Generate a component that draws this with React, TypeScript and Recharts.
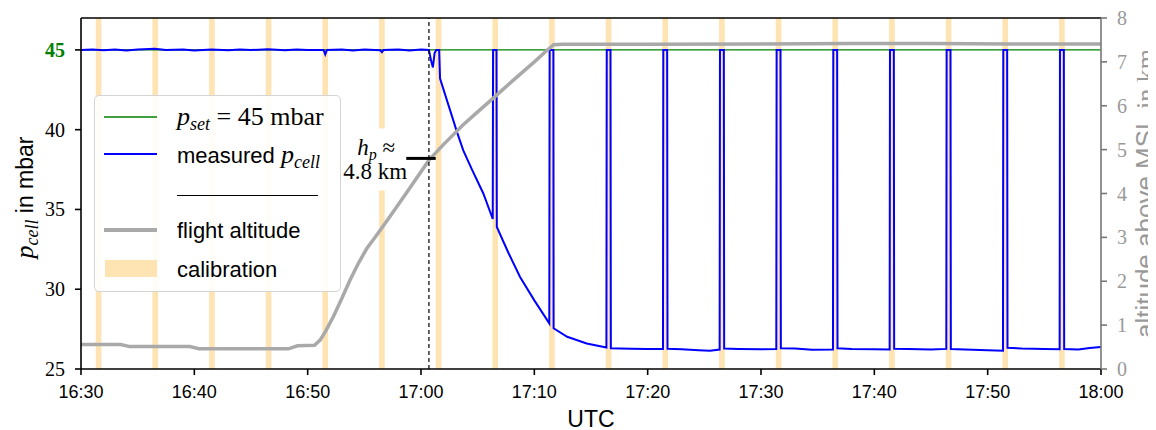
import React from 'react';
import {
  ComposedChart,
  Line,
  XAxis,
  YAxis,
  ReferenceArea,
  ReferenceLine,
  ReferenceDot,
  Label,
} from 'recharts';

const SANS = '"Liberation Sans", Arial, Helvetica, sans-serif';
const SERIF = '"Liberation Serif", "Times New Roman", serif';

const GREEN = '#008000';
const BLUE = '#0000ff';
const GREY = '#a9a9a9';
const CALIB = '#ffe4b3';

// time axis in minutes after midnight (UTC)
const timeTicks = [990, 1000, 1010, 1020, 1030, 1040, 1050, 1060, 1070, 1080];
const pressureTicks = [25, 30, 35, 40, 45];
const altitudeTicks = [0, 1, 2, 3, 4, 5, 6, 7, 8];

const pSet = 45;

// start of each calibration window, ~0.5 min long
const calibrationStart = [
  991.3, 996.3, 1001.3, 1006.3, 1011.3, 1016.3, 1021.3, 1026.3, 1031.3,
  1036.3, 1041.3, 1046.3, 1051.3, 1056.3, 1061.3, 1066.3, 1071.3, 1076.3,
];
const calibrationLength = 0.5;

// pressure controller saturates here
const hpTime = 1020.7;
const hpAltitude = 4.8;

// [minute, mbar]
const measuredPcell: [number, number][] = [
  [990, 45.0], [991, 45.03], [992, 44.98], [993, 45.02], [994, 44.97], [995, 45.02],
  [996.5, 45.08], [997.5, 44.99], [999, 45.02], [1000, 44.97], [1001.5, 45.03],
  [1003, 44.98], [1004, 45.02], [1005, 44.99], [1006.5, 45.04], [1008, 44.98],
  [1009, 45.02], [1010, 44.99], [1011.4, 45.0], [1011.55, 44.72], [1011.7, 45.0],
  [1013, 45.03], [1014, 44.97], [1015, 45.02], [1016.4, 44.98], [1016.55, 44.86],
  [1016.7, 45.0], [1018, 45.02], [1019, 44.97], [1020, 45.02], [1020.7, 45.0],
  [1020.9, 44.3], [1021.05, 43.9], [1021.2, 44.8], [1021.35, 45.0], [1021.6, 45.0],
  [1021.68, 43.2], [1023.2, 39.8], [1023.73, 38.7], [1024.5, 37.5], [1025.5, 36.0],
  [1026.33, 34.4], [1026.36, 45.0], [1026.66, 45.0], [1026.69, 33.9],
  [1027.7, 32.3], [1028.74, 30.77], [1030, 29.3], [1031.32, 27.86],
  [1031.35, 45.0], [1031.68, 45.0], [1031.7, 27.55],
  [1032.9, 27.02], [1034.62, 26.6], [1036.36, 26.35],
  [1036.39, 45.0], [1036.72, 45.0], [1036.75, 26.3],
  [1038.5, 26.27], [1040, 26.25], [1041.35, 26.26],
  [1041.38, 45.0], [1041.72, 45.0], [1041.75, 26.27],
  [1043, 26.24], [1044.5, 26.18], [1045.5, 26.15], [1046.35, 26.22],
  [1046.38, 45.0], [1046.72, 45.0], [1046.75, 26.28],
  [1048, 26.26], [1050, 26.24], [1051.35, 26.25],
  [1051.38, 45.0], [1051.72, 45.0], [1051.75, 26.3],
  [1053, 26.29], [1054.5, 26.2], [1056.35, 26.22],
  [1056.38, 45.0], [1056.72, 45.0], [1056.75, 26.3],
  [1058, 26.26], [1060, 26.24], [1061.35, 26.23],
  [1061.38, 45.0], [1061.72, 45.0], [1061.75, 26.27],
  [1063, 26.25], [1065, 26.22], [1066.35, 26.26],
  [1066.38, 45.0], [1066.72, 45.0], [1066.75, 26.25],
  [1068, 26.23], [1070, 26.18], [1071.35, 26.15],
  [1071.38, 45.0], [1071.72, 45.0], [1071.75, 26.33],
  [1073, 26.28], [1075, 26.25], [1076.35, 26.24],
  [1076.38, 45.0], [1076.72, 45.0], [1076.75, 26.25],
  [1078, 26.22], [1079, 26.32], [1080, 26.38],
];

// [minute, km above MSL]
const flightAltitude: [number, number][] = [
  [990, 0.56], [993.5, 0.56], [994.3, 0.51], [999.6, 0.51], [1000.4, 0.46],
  [1008.3, 0.46], [1009.1, 0.53], [1010.6, 0.54], [1011.1, 0.66], [1011.6, 0.87],
  [1012.26, 1.19], [1013, 1.6], [1013.74, 2.03], [1014.5, 2.42], [1015.2, 2.74],
  [1016, 3.02], [1017, 3.38], [1019, 4.12], [1020.7, 4.76], [1022, 5.12],
  [1023.7, 5.56], [1025, 5.86], [1026.4, 6.18], [1028, 6.55], [1030, 7.0],
  [1031.1, 7.26], [1031.7, 7.39], [1032.5, 7.4], [1040, 7.4], [1050, 7.41],
  [1058, 7.42], [1065, 7.42], [1072, 7.41], [1080, 7.41],
];

const setpointData = [
  { t: 990, p: pSet },
  { t: 1080, p: pSet },
];
const pcellData = measuredPcell.map(([t, p]) => ({ t, p }));
const altitudeData = flightAltitude.map(([t, h]) => ({ t, h }));

const fmtTime = (m: number) =>
  `${Math.floor(m / 60)}:${String(Math.round(m % 60)).padStart(2, '0')}`;

const PressureTick = (props: any) => {
  const { x, y, payload } = props;
  const isSet = payload.value === pSet;
  return (
    <text
      x={x}
      y={y}
      dy="0.35em"
      textAnchor="end"
      fontFamily={SERIF}
      fontSize={20}
      fontWeight={isSet ? 'bold' : 'normal'}
      fill={isSet ? GREEN : '#000'}
    >
      {payload.value}
    </text>
  );
};

const AltitudeTick = (props: any) => {
  const { x, y, payload } = props;
  return (
    <text x={x} y={y} dy="0.35em" textAnchor="start" fontFamily={SERIF} fontSize={20} fill="#999">
      {payload.value}
    </text>
  );
};

const TimeTick = (props: any) => {
  const { x, y, payload } = props;
  return (
    <text x={x} y={y} dy="0.71em" textAnchor="middle" fontFamily={SANS} fontSize={18} fill="#000">
      {fmtTime(payload.value)}
    </text>
  );
};

const TimeLabel = (props: any) => {
  const vb = props.viewBox || {};
  const cx = vb.x + vb.width / 2;
  return (
    <text x={cx} y={419} textAnchor="middle" fontFamily={SANS} fontSize={23} fill="#000">
      UTC
    </text>
  );
};

const PressureLabel = (props: any) => {
  const vb = props.viewBox || {};
  const cy = vb.y + vb.height / 2 + 4;
  const x = 25;
  return (
    <text
      x={x}
      y={cy}
      transform={`rotate(-90, ${x}, ${cy})`}
      textAnchor="middle"
      fontFamily={SERIF}
      fontSize={26}
      fill="#000"
    >
      <tspan fontStyle="italic">p</tspan>
      <tspan fontStyle="italic" fontSize={18} dy={5}>cell</tspan>
      <tspan dy={-5} fontFamily={SANS} fontSize={23}> in mbar</tspan>
    </text>
  );
};

// right-hand label runs off the edge of the figure, as the axis sits close to it
const AltitudeLabel = (props: any) => {
  const vb = props.viewBox || {};
  const cy = vb.y + vb.height / 2;
  const x = 1146;
  return (
    <text
      x={x}
      y={cy}
      transform={`rotate(-90, ${x}, ${cy})`}
      textAnchor="middle"
      fontFamily={SANS}
      fontSize={26}
      fill="#999"
    >
      altitude above MSL
      <tspan fontFamily={SERIF}> in km</tspan>
    </text>
  );
};

// text box next to the h_p marker, anchored at the marker's left end
const HpLabel = (props: any) => {
  const vb = props.viewBox || {};
  const x = vb.x + (vb.width || 0) / 2;
  const y = vb.y + (vb.height || 0) / 2;
  return (
    <g>
      <rect x={x - 66} y={y - 30} width={64} height={62} fill="#fff" />
      <text x={x - 30} y={y - 3.5} textAnchor="middle" fontFamily={SERIF} fontSize={23} fill="#000">
        <tspan fontStyle="italic">h</tspan>
        <tspan fontStyle="italic" fontSize={16} dy={5}>p</tspan>
        <tspan dy={-5}> ≈</tspan>
      </text>
      <text x={x - 31} y={y + 20.6} textAnchor="middle" fontFamily={SERIF} fontSize={23} fill="#000">
        4.8 km
      </text>
    </g>
  );
};

const LegendBox = () => (
  <div
    style={{
      position: 'absolute',
      left: 86,
      top: 87,
      width: 247,
      height: 197,
      boxSizing: 'border-box',
      border: '1px solid #d4d4d4',
      borderRadius: 5,
      background: 'rgba(255,255,255,0.9)',
    }}
  >
    <svg width={247} height={197} style={{ position: 'absolute', left: -1, top: -1 }}>
      <line x1={10} x2={63} y1={22} y2={22} stroke={GREEN} strokeWidth={1.5} />
      <text x={83} y={30} fontFamily={SERIF} fontSize={26} fill="#000">
        <tspan fontStyle="italic">p</tspan>
        <tspan fontStyle="italic" fontSize={18} dy={5}>set</tspan>
        <tspan dy={-5}> = 45 mbar</tspan>
      </text>
      <line x1={10} x2={63} y1={59} y2={59} stroke={BLUE} strokeWidth={2} />
      <text x={83} y={68} fontFamily={SANS} fontSize={22} fill="#000">
        measured{' '}
        <tspan fontFamily={SERIF} fontStyle="italic" fontSize={26}>p</tspan>
        <tspan fontFamily={SERIF} fontStyle="italic" fontSize={18} dy={5}>cell</tspan>
      </text>
      <line x1={83} x2={224} y1={100.5} y2={100.5} stroke="#000" strokeWidth={1} />
      <line x1={10} x2={63} y1={135} y2={135} stroke={GREY} strokeWidth={4} />
      <text x={83} y={143} fontFamily={SANS} fontSize={22} fill="#000">
        flight altitude
      </text>
      <rect x={11} y={165} width={52} height={17} fill={CALIB} />
      <text x={83} y={182} fontFamily={SANS} fontSize={22} fill="#000">
        calibration
      </text>
    </svg>
  </div>
);

export default function App() {
  return (
    <div style={{ position: 'relative', width: 1148, height: 422 }}>
      <ComposedChart
        width={1148}
        height={422}
        margin={{ top: 10, right: 0, bottom: 0, left: 0 }}
      >
        <XAxis
          dataKey="t"
          type="number"
          domain={[990, 1080]}
          ticks={timeTicks}
          allowDataOverflow
          height={61}
          stroke="#000"
          strokeWidth={1.6}
          tickSize={6}
          tickMargin={10}
          tick={<TimeTick />}
        >
          <Label content={<TimeLabel />} />
        </XAxis>
        <YAxis
          yAxisId="left"
          domain={[25, 47]}
          ticks={pressureTicks}
          allowDataOverflow
          width={73}
          stroke="#000"
          strokeWidth={1.6}
          tickSize={6}
          tickMargin={10}
          tick={<PressureTick />}
        >
          <Label content={<PressureLabel />} />
        </YAxis>
        <YAxis
          yAxisId="right"
          orientation="right"
          domain={[0, 8]}
          ticks={altitudeTicks}
          allowDataOverflow
          width={55}
          stroke="#777"
          strokeWidth={1.6}
          tickSize={6}
          tickMargin={10}
          tick={<AltitudeTick />}
        >
          <Label content={<AltitudeLabel />} />
        </YAxis>

        {calibrationStart.map((t) => (
          <ReferenceArea
            key={t}
            yAxisId="left"
            x1={t}
            x2={t + calibrationLength}
            fill={CALIB}
            fillOpacity={1}
            stroke="none"
            ifOverflow="hidden"
          />
        ))}

        <ReferenceDot
          yAxisId="right"
          x={1018.7}
          y={hpAltitude}
          r={0}
          fill="none"
          stroke="none"
          ifOverflow="visible"
        >
          <Label content={<HpLabel />} />
        </ReferenceDot>

        <ReferenceLine yAxisId="left" y={47} stroke="#000" strokeWidth={1.6} />

        <Line
          yAxisId="left"
          data={setpointData}
          dataKey="p"
          type="linear"
          stroke={GREEN}
          strokeWidth={1.3}
          dot={false}
          activeDot={false}
          isAnimationActive={false}
        />
        <Line
          yAxisId="left"
          data={pcellData}
          dataKey="p"
          type="linear"
          stroke={BLUE}
          strokeWidth={2}
          dot={false}
          activeDot={false}
          isAnimationActive={false}
        />
        <Line
          yAxisId="right"
          data={altitudeData}
          dataKey="h"
          type="linear"
          stroke={GREY}
          strokeWidth={3.5}
          dot={false}
          activeDot={false}
          isAnimationActive={false}
        />

        <ReferenceLine
          yAxisId="left"
          x={hpTime}
          stroke="#000"
          strokeWidth={1.2}
          strokeDasharray="4 3"
        />
        <ReferenceLine
          yAxisId="right"
          segment={[
            { x: 1018.7, y: hpAltitude },
            { x: 1021.3, y: hpAltitude },
          ]}
          stroke="#000"
          strokeWidth={3}
          ifOverflow="visible"
        />
      </ComposedChart>
      <LegendBox />
    </div>
  );
}
